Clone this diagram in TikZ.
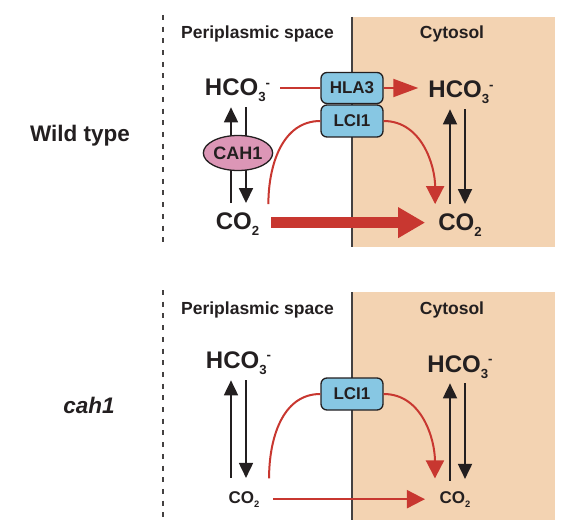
\documentclass[tikz,border=0pt]{standalone}
\usepackage{fontspec}
\setmainfont{Liberation Sans}
\usepackage{tikz}
\usetikzlibrary{calc, shapes.geometric}
\usetikzlibrary{arrows.meta}
\tikzset{>={Triangle[width=14pt,length=15pt]}}
\definecolor{ink}{RGB}{35,31,32}
\definecolor{fluxred}{RGB}{200,55,48}
\definecolor{cytopeach}{RGB}{243,211,178}
\definecolor{chanblue}{RGB}{135,199,227}
\definecolor{cahpink}{RGB}{220,150,182}
\newcommand{\subnum}[1]{\raisebox{-0.25em}{\scalebox{0.55}{#1}}}
\newcommand{\supminus}{\raisebox{0.36em}{\scalebox{0.55}{-}}}

\begin{document}
\begin{tikzpicture}[
    x = 1pt, y = -1pt,
    mol/.style = {font=\fontsize{24}{24}\selectfont\bfseries, text=ink,
        inner sep=0pt, anchor=base},
    molsmall/.style = {mol, font=\fontsize{17}{17}\selectfont\bfseries},
    head/.style = {font=\fontsize{17.5}{17.5}\selectfont\bfseries, text=ink,
        inner sep=0pt, anchor=base},
    side/.style = {font=\fontsize{22.5}{22.5}\selectfont\bfseries, text=ink,
        inner sep=0pt, anchor=base},
    chan/.style = {draw=ink, line width=1.3pt, fill=chanblue, rounded corners=6pt,
        minimum width=62pt, minimum height=31pt, inner sep=0pt,
        font=\fontsize{17}{17}\selectfont\bfseries, text=ink},
    enz/.style = {ellipse, draw=ink, line width=1.3pt, fill=cahpink,
        minimum width=62pt, minimum height=35pt, inner sep=0pt,
        font=\fontsize{18}{18}\selectfont\bfseries, text=ink},
    membrane/.style = {draw=ink!85, line width=2pt},
    septum/.style = {draw=ink!85, line width=2.5pt, dash pattern=on 5pt off 6.7pt},
    eq/.style = {draw=ink, line width=1.8pt, ->},
    fluxline/.style = {draw=fluxred, line width=2pt},
    flux/.style = {fluxline, -{Triangle[width=18pt,length=18pt]}},
    bigflux/.style = {draw=fluxred, line width=10.7pt, -{Triangle[width=29pt,length=27pt]}}
  ]
  \useasboundingbox (0,0) rectangle (564,526);

  \foreach \top/\bot [count=\i] in {17/247, 292/520} {
    \fill[cytopeach] (353,\top) rectangle (555,\bot);
    \draw[membrane] (352,\top) -- (352,\bot);
    \draw[septum] (163,\top-2) -- (163,\bot);
    \node[head] (peri\i) at (257.5,\top+22) {Periplasmic space};
    \node[head] (cyto\i) at (452,\top+22) {Cytosol};
  }

  \node[side] (wt) at (80,141.5) {Wild type};
  \node[side, font=\fontsize{22.5}{22.5}\selectfont\bfseries\itshape] (mut) at (89,413) {cah1};

  % wild type
  \node[mol] (hcoL) at (237.5,96) {HCO\subnum{3}\supminus};
  \node[mol] (hcoR) at (461,98) {HCO\subnum{3}\supminus};
  \node[mol] (coL) at (237.5,230) {CO\subnum{2}};
  \node[mol] (coR) at (460,231) {CO\subnum{2}};
  \node[chan] (hla) at (352,88) {HLA3};
  \node[chan, minimum height=32pt] (lciT) at (352,121) {LCI1};

  \draw[eq] ([shift={(-6.5,-10)}]coL.north) -- ([shift={(-6.5,5)}]hcoL.south);
  \draw[eq] ([shift={(8.5,5)}]hcoL.south) -- ([shift={(8.5,-10)}]coL.north);
  \node[enz] (cah) at (238,153) {CAH1};
  \draw[eq] ([shift={(-10,-10)}]coR.north) -- ([shift={(-11,5)}]hcoR.south);
  \draw[eq] ([shift={(4,5)}]hcoR.south) -- ([shift={(5,-10)}]coR.north);

  \draw[fluxline] (hla.west) -- ($(hla.west -| hcoL.east)+(10,0)$);
  \draw[flux, -{Triangle[width=18pt,length=25pt]}, shorten >=10pt] (hla.east) -- (hla.east -| hcoR.west);
  \draw[fluxline] ([shift={(9,-9)}]coL.north east) to[out=90, in=180] (lciT.west);
  \draw[flux] (lciT.east) to[out=0, in=90] ([shift={(-3,-10)}]coR.north west);
  \draw[bigflux, shorten <=12pt, shorten >=13pt] ($(coL.east)+(0,-2)$) -- ($(coL.east -| coR.west)+(0,-2)$);

  % cah1
  \node[mol] (hcoLb) at (238.5,368) {HCO\subnum{3}\supminus};
  \node[mol] (hcoRb) at (460,372) {HCO\subnum{3}\supminus};
  \node[molsmall] (coLb) at (244,503) {CO\subnum{2}};
  \node[molsmall] (coRb) at (455,503) {CO\subnum{2}};
  \node[chan, minimum height=32pt] (lciB) at (352,394) {LCI1};

  \draw[eq] ([shift={(-13,-13)}]coLb.north) -- ([shift={(-7.5,6)}]hcoLb.south);
  \draw[eq] ([shift={(7.5,6)}]hcoLb.south) -- ([shift={(2,-13)}]coLb.north);
  \draw[eq] ([shift={(-5,-10)}]coRb.north) -- ([shift={(-10,5)}]hcoRb.south);
  \draw[eq] ([shift={(5,5)}]hcoRb.south) -- ([shift={(10,-12)}]coRb.north);

  \draw[fluxline] ([shift={(9.5,-12.5)}]coLb.north east) to[out=90, in=180] (lciB.west);
  \draw[flux] (lciB.east) to[out=0, in=90] ([shift={(-4.5,-12.5)}]coRb.north west);
  \draw[flux, shorten <=13.5pt, shorten >=14.5pt] (coLb.east) -- (coLb.east -| coRb.west);
\end{tikzpicture}
\end{document}
